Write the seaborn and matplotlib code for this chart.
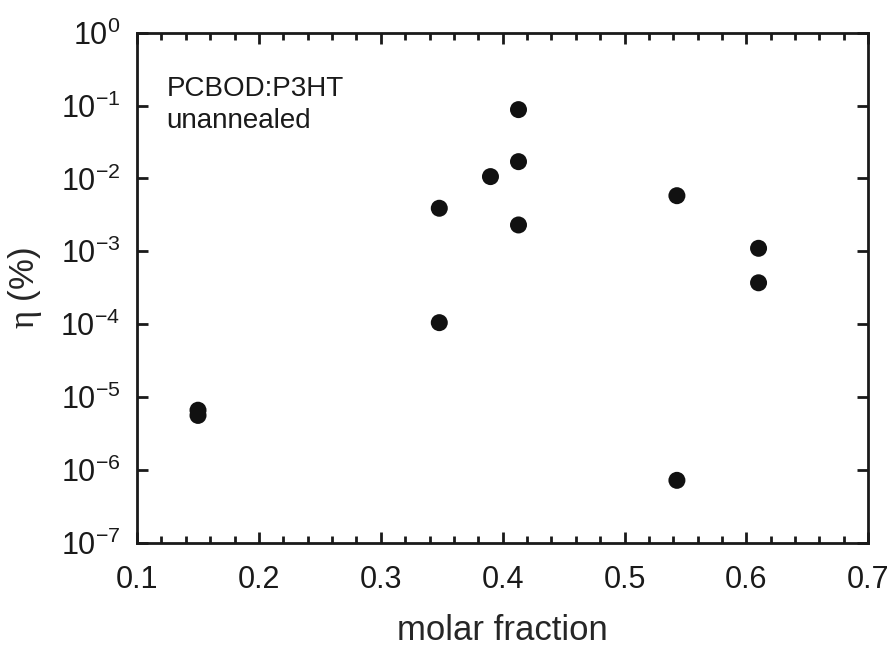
import numpy as np
import pandas as pd
import matplotlib
matplotlib.use("Agg")
import matplotlib.pyplot as plt
import matplotlib.ticker as mticker
import seaborn as sns

# values
molar_fraction = [0.150, 0.150, 0.348, 0.348, 0.390, 0.413, 0.413, 0.413, 0.543, 0.543, 0.610, 0.610]
efficiency = [6.6e-6, 5.6e-6, 3.9e-3, 1.05e-4, 1.06e-2, 8.8e-2, 1.7e-2, 2.3e-3, 5.8e-3, 7.2e-7, 1.1e-3, 3.7e-4]
x_ticks = [0.1, 0.2, 0.3, 0.4, 0.5, 0.6, 0.7]
y_ticks = [1e-7, 1e-6, 1e-5, 1e-4, 1e-3, 1e-2, 1e-1, 1e0]

df = pd.DataFrame({"molar_fraction": molar_fraction, "eta": efficiency})

sns.set_theme(style="ticks")
plt.rcParams.update({
    "font.family": ["Liberation Sans", "DejaVu Sans"],
    "mathtext.fontset": "custom",
    "mathtext.rm": "Liberation Sans",
    "mathtext.it": "Liberation Serif",
    "axes.unicode_minus": False,
    "axes.edgecolor": "#1a1a1a",
    "text.color": "#1a1a1a",
    "xtick.color": "#1a1a1a",
    "ytick.color": "#1a1a1a",
})

fig = plt.figure(figsize=(8.96, 6.54), dpi=100)
ax = fig.add_axes([0.153, 0.170, 0.816, 0.780])

sns.scatterplot(data=df, x="molar_fraction", y="eta", ax=ax, color="#111111",
                s=150, edgecolor="none", legend=False)

ax.set_yscale("log")
ax.set_xlim(0.1, 0.7)
ax.set_ylim(1e-7, 1e0)
ax.set_xticks(x_ticks)
ax.xaxis.set_major_formatter(mticker.FormatStrFormatter("%.1f"))
ax.xaxis.set_minor_locator(mticker.MultipleLocator(0.02))
ax.set_yticks(y_ticks)
ax.yaxis.set_minor_locator(mticker.NullLocator())
ax.yaxis.set_major_formatter(mticker.FuncFormatter(
    lambda v, _: r"$\mathregular{10^{%d}}$" % round(np.log10(v))))

for side in ["top", "right", "left", "bottom"]:
    ax.spines[side].set_linewidth(2)
ax.tick_params(which="both", direction="in", top=True, right=True, width=2)
ax.tick_params(which="major", length=8, labelsize=22)
ax.tick_params(axis="x", which="major", pad=16)
ax.tick_params(axis="y", which="major", pad=12)
ax.tick_params(which="minor", length=5)

ax.set_xlabel("molar fraction", fontsize=25, labelpad=14)
ax.set_ylabel(r"$\eta$ (%)", fontsize=25, labelpad=12)

ax.text(0.04, 0.915, "PCBOD:P3HT\nunannealed", transform=ax.transAxes,
        fontsize=20, va="top", ha="left", linespacing=1.3)

fig.savefig("out.png", dpi=100)
